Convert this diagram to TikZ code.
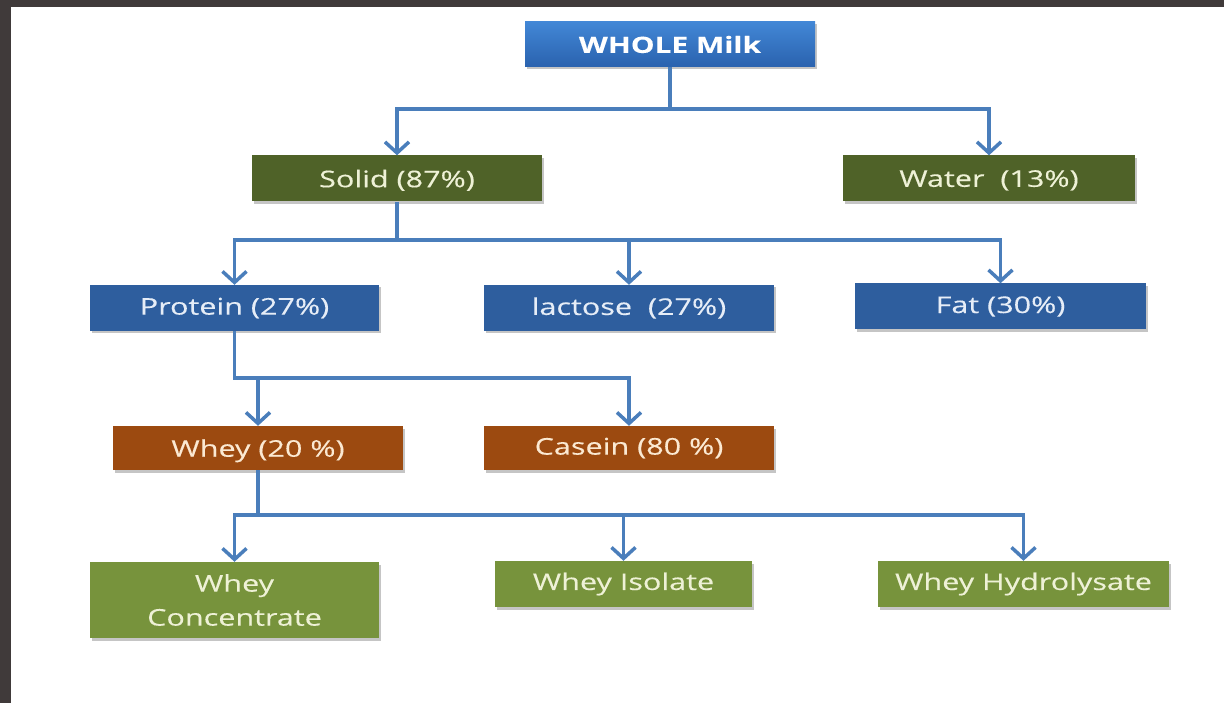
\documentclass[tikz,border=0pt]{standalone}
\usepackage{fontspec}
\setmainfont[FakeStretch=1.33, FakeBold=0.3]{Open Sans}
\usetikzlibrary{arrows.meta,shadows}

\definecolor{framegray}{HTML}{403A3A}
\definecolor{linkblue}{HTML}{4A7EBB}
\definecolor{milktop}{HTML}{4287D6}
\definecolor{milkbot}{HTML}{2A62AE}
\definecolor{olivedark}{HTML}{4F6228}
\definecolor{blueshade}{HTML}{2E5E9E}
\definecolor{rust}{HTML}{9C4A10}
\definecolor{leaf}{HTML}{77933C}
\definecolor{cream}{HTML}{EEF1D6}
\definecolor{paleblue}{HTML}{E6EDF7}
\definecolor{peach}{HTML}{FBE9D2}

\tikzset{
  box/.style={rectangle, inner sep=0pt, minimum width=290pt, minimum height=46pt,
    font=\fontsize{23}{34}\selectfont, align=center,
    drop shadow={shadow xshift=1.5pt, shadow yshift=-2.5pt, fill=black!50, opacity=.45}},
  milkbox/.style={box, top color=milktop, bottom color=milkbot, text=white,
    font=\fontsize{22.5}{33}\selectfont\bfseries},
  solidbox/.style={box, fill=olivedark, text=cream},
  partbox/.style={box, fill=blueshade, text=paleblue},
  protbox/.style={box, fill=rust, text=peach},
  productbox/.style={box, fill=leaf, text=cream},
  lowtext/.style={text depth=0pt},
  link/.style={draw=linkblue, line width=3.5pt},
  feed/.style={link, -{Straight Barb[length=11pt, width=24pt, line width=3.5pt]}}
}

\begin{document}
\begin{tikzpicture}[x=1pt, y=-1pt]
\useasboundingbox (0,0) rectangle (1224,703);
% dark frame on the left and top edges
\fill[framegray] (0,0) rectangle (1224,703);
\fill[white] (11,7) rectangle (1224,703);

% boxes
\node[milkbox, minimum height=45pt] (milk) at (670,44.5) {WHOLE Milk};

\node[solidbox, lowtext] (solid) at (397,178.5) {Solid (87\%)};
\node[solidbox, lowtext, minimum width=292pt] (water) at (989,178.5) {Water\ \ (13\%)};

\node[partbox, minimum width=289pt] (protein) at (234.5,308) {Protein (27\%)};
\node[partbox] (lactose) at (629,308) {lactose\ \ (27\%)};
\node[partbox, minimum width=291pt] (fat) at (1000.5,306.5) {Fat (30\%)};

\node[protbox, lowtext, minimum height=44pt] (whey) at (258,448) {Whey (20 \%)};
\node[protbox, minimum height=44pt] (casein) at (629,448) {Casein (80 \%)};

\node[productbox, minimum width=289pt, minimum height=76pt] (conc) at (234.5,600) {Whey\\Concentrate};
\node[productbox, minimum width=257pt] (iso) at (623.5,584) {Whey Isolate};
\node[productbox, minimum width=291pt] (hydro) at (1023.5,584) {Whey Hydrolysate};

% branch levels
\coordinate (bus1) at (0,109);
\coordinate (bus2) at (0,240);
\coordinate (bus3) at (0,378);
\coordinate (bus4) at (0,515);

% whole milk -> solid, water
\draw[feed] (milk.south) -- (milk.south |- bus1) -| (solid.north);
\draw[feed] (milk.south |- bus1) -| (water.north);

% solid -> protein, lactose, fat
\draw[feed] (solid.south) -- (solid.south |- bus2) -| (protein.north);
\draw[feed] (solid.south |- bus2) -| (fat.north);
\draw[feed] (lactose.north |- bus2) -- (lactose.north);

% protein -> whey, casein
\draw[feed] (protein.south) -- (protein.south |- bus3) -| (casein.north);
\draw[feed] (whey.north |- bus3) -- (whey.north);

% whey -> concentrate, isolate, hydrolysate
\draw[feed] (whey.south) -- (whey.south |- bus4) -| (conc.north);
\draw[feed] (whey.south |- bus4) -| (hydro.north);
\draw[feed] (iso.north |- bus4) -- (iso.north);
\end{tikzpicture}
\end{document}
